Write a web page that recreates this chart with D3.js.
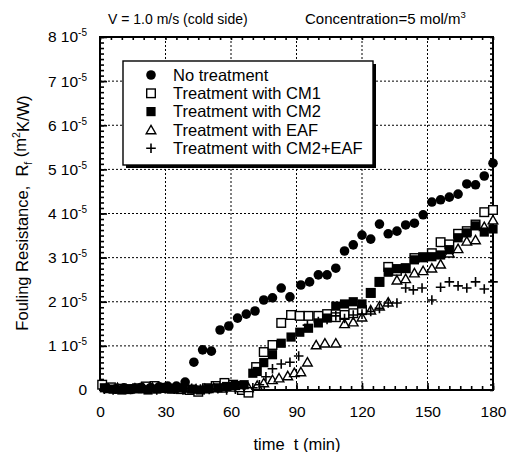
<!DOCTYPE html>
<html lang="en">
<head>
<meta charset="UTF-8">
<title>Fouling resistance vs time</title>
<script src="https://cdn.jsdelivr.net/npm/d3@7"></script>
<style>
  body { margin: 0; background: #fff; }
  svg { display: block; font-family: "Liberation Sans", Arial, sans-serif; }
  .grid line { stroke: #000; stroke-width: 1; stroke-dasharray: 2,2; }
  .axis path { display: none; }
  .axis line { stroke: #000; stroke-width: 1.6; }
</style>
</head>
<body>
<svg id="chart" width="508" height="452"></svg>
<script>
// values of Rf are in units of 1e-5 m2K/W, time in minutes
const xTicks = [0, 30, 60, 90, 120, 150, 180];
const yTicks = [0, 1, 2, 3, 4, 5, 6, 7, 8];

const seriesNames = ["No treatment", "Treatment with CM1", "Treatment with CM2",
                     "Treatment with EAF", "Treatment with CM2+EAF"];

const tNone = [3,7,11,15,19,23,27,31,35,39,43,47,51,55,59,63,67,71,75,79,83,87,92,96,100,104,108,112,116,120,124,128,132,136,140,144,148,152,156,160,164,168,172,176,180];
const rNone = [0.04,0.02,0.05,0.03,0.06,0.05,0.07,0.09,0.09,0.18,0.63,0.91,0.88,1.36,1.45,1.63,1.72,1.79,2.04,2.09,2.31,2.11,2.38,2.45,2.61,2.61,2.76,3.15,3.29,3.51,3.42,3.76,3.54,3.60,3.74,3.78,3.97,4.26,4.31,4.37,4.44,4.67,4.65,4.85,5.14];

const tCM1 = [1,5,9,13,17,21,25,29,33,37,41,45,49,53,57,61,65,68,71.5,75,79,83,87.5,91.5,95.5,100,104,108,112,116,120,124,128,132,136,140,144,148,152,156,160,164,168,172,176,180];
const rCM1 = [0.12,0.06,0.03,0.02,0.04,0.08,0.09,0.05,0.03,0.02,0.0,-0.04,0.04,0.09,0.16,0.12,0.0,-0.06,
              0.52,0.86,1.02,1.52,1.70,1.68,1.68,
              1.68,1.72,1.65,1.70,1.74,1.81,2.2,2.45,2.79,2.7,
              2.76,2.99,3.01,3.1,3.35,3.3,3.54,3.6,3.75,4.03,4.08];

const tCM2 = [2,6,10,14,18,22,26,30,34,38,42,46,50,54,58,62,66,70,72,75,79,83,87.5,91.5,95.5,100,104,108,112,116,120,124,128,132,136,140,144,148,152,156,160,164,168,172,176,180];
const rCM2 = [0.05,0.02,0.0,0.02,0.03,0.0,0.02,0.04,0.03,0.05,0.02,0.0,0.03,0.05,0.08,0.1,0.12,
              0.38,0.42,0.62,0.8,1.06,1.2,1.31,1.4,
              1.52,1.63,1.9,1.95,2.0,1.95,2.2,2.45,2.67,2.75,
              2.76,2.95,3.0,3.02,3.06,3.18,3.45,3.56,3.72,3.58,3.65];

const tEAF = [4,8,12,16,20,24,28,32,36,40,44,48,52,56,60,64,68,72,75,79,82,86,89,92,95,99,103,108,112,116,120,124,128,132,136,140,144,148,152,156,160,164,168,172,176,180];
const rEAF = [0.03,0.05,0.02,0.04,0.03,0.06,0.04,0.03,0.05,0.04,0.02,0.03,0.05,0.04,0.06,0.05,
              0.05,0.1,0.16,0.23,0.27,0.32,0.39,0.41,0.63,1.02,1.06,1.06,
              1.5,1.54,1.65,1.81,1.90,1.99,2.49,2.52,2.65,2.7,2.76,2.85,3.1,3.2,3.37,3.4,3.7,3.85];

const tMix = [2,6,10,14,18,22,26,30,34,38,42,46,50,54,58,62,66,70,73,76,79,83,87,91,95,100,104,108,112,116,120,124,128,132,136,140,143.5,147.5,152,156,160,164,168,172,176,180];
const rMix = [0.02,0.0,0.03,0.01,0.05,0.02,0.0,0.03,0.02,0.0,0.04,0.02,0.01,0.03,0.0,0.02,0.05,
              0.05,0.12,0.3,0.48,0.59,0.63,0.77,1.47,
              1.55,1.6,1.68,1.62,1.7,1.72,1.78,1.85,1.97,1.97,
              2.31,2.27,2.31,2.04,2.33,2.45,2.36,2.31,2.45,2.29,2.45];

const svg = d3.select("#chart");
const plotL = 100, plotR = 493, plotT = 37, plotB = 390;

const x = d3.scaleLinear().domain([0, 180]).range([plotL, plotR]);
const y = d3.scaleLinear().domain([0, 8]).range([plotB, plotT]);

// grid
svg.append("g").attr("class", "grid")
    .selectAll("line").data(xTicks.slice(1, -1)).enter().append("line")
    .attr("x1", d => x(d)).attr("x2", d => x(d))
    .attr("y1", plotT).attr("y2", plotB);
svg.append("g").attr("class", "grid")
    .selectAll("line").data(yTicks.slice(1, -1)).enter().append("line")
    .attr("y1", d => y(d)).attr("y2", d => y(d))
    .attr("x1", plotL).attr("x2", plotR);

// ticks (inward)
const minorX = d3.range(0, 181, 5);
const minorY = d3.range(0, 8.001, 0.125);

svg.append("g").attr("class", "axis").attr("transform", `translate(0,${plotB})`)
    .call(d3.axisBottom(x).tickValues(minorX).tickSize(-4).tickFormat(""));
const xAxis = svg.append("g").attr("class", "axis").attr("transform", `translate(0,${plotB})`)
    .call(d3.axisBottom(x).tickValues(xTicks).tickSize(-7).tickPadding(16));
xAxis.selectAll("text").attr("font-size", 15.5).attr("fill", "#000")
    .attr("font-family", "Liberation Sans, Arial, sans-serif");

svg.append("g").attr("class", "axis").attr("transform", `translate(0,${plotT})`)
    .call(d3.axisTop(x).tickValues(minorX).tickSize(-3).tickFormat(""))
    .selectAll("line").attr("stroke-width", 1);

svg.append("g").attr("class", "axis").attr("transform", `translate(${plotL},0)`)
    .call(d3.axisLeft(y).tickValues(minorY).tickSize(-4).tickFormat(""));
const yAxis = svg.append("g").attr("class", "axis").attr("transform", `translate(${plotL},0)`)
    .call(d3.axisLeft(y).tickValues(yTicks).tickSize(-7).tickPadding(13));
yAxis.selectAll("text").each(function(d) {
    const t = d3.select(this).text(null)
        .attr("font-size", 15.5).attr("fill", "#000")
        .attr("font-family", "Liberation Sans, Arial, sans-serif");
    if (d === 0) { t.text("0"); return; }
    t.append("tspan").text(d + " 10");
    t.append("tspan").attr("font-size", 10).attr("dy", "-0.6em").text("-5");
});

svg.append("g").attr("class", "axis").attr("transform", `translate(${plotR},0)`)
    .call(d3.axisRight(y).tickValues(minorY).tickSize(-3).tickFormat(""))
    .selectAll("line").attr("stroke-width", 1);

// frame
svg.append("rect")
    .attr("x", plotL).attr("y", plotT)
    .attr("width", plotR - plotL).attr("height", plotB - plotT)
    .attr("fill", "none").attr("stroke", "#000").attr("stroke-width", 2);

// markers
function marker(g, kind) {
    if (kind === "circle") {
        g.append("circle").attr("r", 4.8).attr("fill", "#000");
    } else if (kind === "openSquare") {
        g.append("rect").attr("x", -4.3).attr("y", -4.3).attr("width", 8.6).attr("height", 8.6)
            .attr("fill", "#fff").attr("stroke", "#000").attr("stroke-width", 1.4);
    } else if (kind === "filledSquare") {
        g.append("rect").attr("x", -4.6).attr("y", -4.6).attr("width", 9.2).attr("height", 9.2)
            .attr("fill", "#000");
    } else if (kind === "triangle") {
        g.append("path").attr("d", "M0,-4.6L4.8,3.8L-4.8,3.8Z")
            .attr("fill", "#fff").attr("stroke", "#000").attr("stroke-width", 1.4);
    } else {
        g.append("path").attr("d", "M-4.8,0H4.8M0,-4.8V4.8")
            .attr("stroke", "#000").attr("stroke-width", 1.6);
    }
}

function drawSeries(ts, rs, kind) {
    const pts = ts.map((t, i) => ({ t: t, r: rs[i] }));
    svg.append("g").selectAll("g").data(pts).enter().append("g")
        .attr("transform", d => `translate(${x(d.t)},${y(d.r)})`)
        .each(function() { marker(d3.select(this), kind); });
}

drawSeries(tCM1, rCM1, "openSquare");
drawSeries(tEAF, rEAF, "triangle");
drawSeries(tMix, rMix, "plus");
drawSeries(tCM2, rCM2, "filledSquare");
drawSeries(tNone, rNone, "circle");

// legend
const kinds = ["circle", "openSquare", "filledSquare", "triangle", "plus"];
const lg = svg.append("g");
lg.append("rect").attr("x", 126).attr("y", 64).attr("width", 250).attr("height", 104).attr("fill", "#000");
lg.append("rect").attr("x", 123).attr("y", 61).attr("width", 250).attr("height", 104)
    .attr("fill", "#fff").attr("stroke", "#000").attr("stroke-width", 1.4);
seriesNames.forEach((name, i) => {
    const yy = 75 + i * 18.3;
    const g = lg.append("g").attr("transform", `translate(151,${yy})`);
    marker(g, kinds[i]);
    lg.append("text").attr("x", 173).attr("y", yy + 5.8)
        .attr("font-size", 16.5).text(name);
});

// header texts
svg.append("text").attr("x", 108).attr("y", 24).attr("font-size", 14)
    .text("V = 1.0 m/s (cold side)");
const conc = svg.append("text").attr("x", 305).attr("y", 24).attr("font-size", 15);
conc.append("tspan").text("Concentration=5 mol/m");
conc.append("tspan").attr("font-size", 9.5).attr("dy", "-0.6em").text("3");

// axis titles
svg.append("text").attr("x", 297).attr("y", 450).attr("font-size", 16.5)
    .attr("text-anchor", "middle").attr("xml:space", "preserve")
    .style("white-space", "pre").text("time  t (min)");

const yl = svg.append("text")
    .attr("transform", "translate(28,213) rotate(-90)")
    .attr("text-anchor", "middle").attr("font-size", 16.5)
    .style("white-space", "pre");
yl.append("tspan").text("Fouling Resistance,  R");
yl.append("tspan").attr("font-size", 10.5).attr("dy", "0.35em").text("f");
yl.append("tspan").attr("dy", "-0.35em").text(" (m");
yl.append("tspan").attr("font-size", 10.5).attr("dy", "-0.55em").text("2");
yl.append("tspan").attr("dy", "0.55em").text("K/W)");
</script>
</body>
</html>
